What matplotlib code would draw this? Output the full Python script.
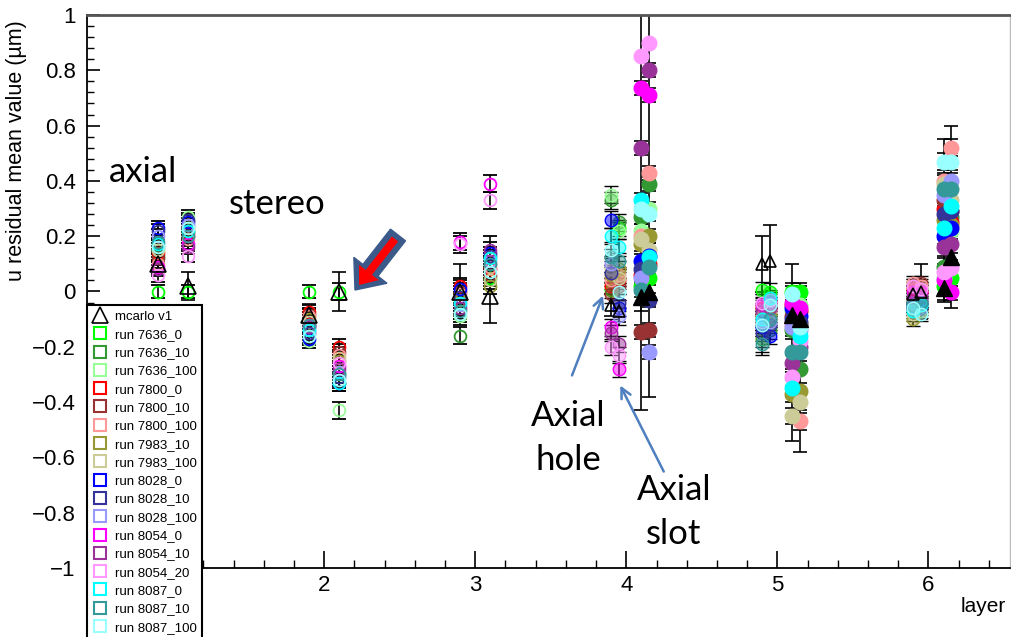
import matplotlib.pyplot as plt
import numpy as np
from matplotlib.lines import Line2D
from matplotlib.patches import FancyArrow
from matplotlib.ticker import MultipleLocator, FuncFormatter
from matplotlib.colors import to_rgba

plt.rcParams['font.family'] = ['Liberation Sans', 'DejaVu Sans']

# layer -0.1 = axial, +0.1 = stereo; layers 4-6 split into hole / slot
xpos = [0.9, 1.1, 1.9, 2.1, 2.9, 3.1, 3.9, 3.95, 4.1, 4.15,
        4.9, 4.95, 5.1, 5.15, 5.9, 5.95, 6.1, 6.15]

runs = ['7636_0', '7636_10', '7636_100', '7800_0', '7800_10', '7800_100',
        '7983_10', '7983_100', '8028_0', '8028_10', '8028_100',
        '8054_0', '8054_10', '8054_20', '8087_0', '8087_10', '8087_100']
colors = ['#00ff00', '#339933', '#99ff99', '#ff0000', '#993333', '#ff9999',
          '#999933', '#cccc99', '#0000ff', '#333399', '#9999ff',
          '#ff00ff', '#993399', '#ff99ff', '#00ffff', '#339999', '#99ffff']

run_7636_0   = [0.0, 0.0, 0.0, 0.0, -0.02, 0.05, 0.005, 0.23, 0.02, 0.05, 0.005, 0.0, 0.0, 0.0, 0.0, 0.01, 0.02, 0.05]
run_7636_10  = [0.13, 0.22, -0.12, -0.30, -0.16, 0.10, 0.33, 0.25, 0.27, 0.39, -0.17, -0.14, -0.14, -0.28, -0.04, -0.03, 0.09, 0.27]
run_7636_100 = [0.15, 0.27, -0.18, -0.43, -0.09, 0.12, 0.35, 0.22, 0.22, 0.30, -0.12, -0.08, -0.07, -0.05, -0.03, -0.02, 0.05, 0.22]
run_7800_0   = [0.14, 0.20, -0.075, -0.20, 0.02, 0.08, 0.02, 0.04, 0.06, 0.10, -0.06, -0.03, -0.05, -0.07, 0.01, 0.0, 0.30, 0.25]
run_7800_10  = [0.12, 0.21, -0.085, -0.22, 0.0, 0.06, -0.01, 0.02, -0.145, -0.14, -0.08, -0.06, -0.09, -0.12, 0.02, 0.03, 0.33, 0.29]
run_7800_100 = [0.10, 0.19, -0.09, -0.23, -0.01, 0.09, 0.04, 0.06, 0.20, 0.43, -0.10, -0.07, -0.12, -0.47, 0.03, 0.02, 0.40, 0.52]
run_7983_10  = [0.16, 0.23, -0.10, -0.25, -0.03, 0.02, 0.06, 0.08, 0.17, 0.20, -0.11, -0.09, -0.37, -0.36, -0.10, -0.07, 0.26, 0.24]
run_7983_100 = [0.15, 0.24, -0.11, -0.24, -0.04, 0.04, 0.08, 0.05, 0.19, 0.15, -0.09, -0.05, -0.45, -0.40, -0.08, -0.05, 0.39, 0.33]
run_8028_0   = [0.23, 0.25, -0.17, -0.33, 0.01, 0.14, 0.26, -0.06, 0.11, 0.13, -0.13, -0.16, -0.06, -0.09, -0.05, -0.04, 0.20, 0.23]
run_8028_10  = [0.22, 0.26, -0.15, -0.31, -0.02, 0.13, 0.066, -0.04, 0.08, -0.03, -0.15, -0.12, -0.10, -0.11, -0.06, -0.06, 0.28, 0.29]
run_8028_100 = [0.20, 0.24, -0.13, -0.29, -0.05, 0.11, 0.10, -0.09, 0.05, -0.22, -0.11, -0.11, -0.13, -0.14, -0.04, -0.03, 0.35, 0.40]
run_8054_0   = [0.09, 0.17, -0.12, -0.27, 0.18, 0.39, -0.13, -0.28, 0.735, 0.71, -0.05, -0.04, -0.04, -0.06, 0.0, 0.0, 0.04, 0.0]
run_8054_10  = [0.08, 0.16, -0.13, -0.28, -0.06, 0.15, -0.15, -0.19, 0.52, 0.80, -0.07, -0.06, -0.26, -0.20, -0.02, -0.02, 0.16, 0.17]
run_8054_20  = [0.06, 0.13, -0.14, -0.26, 0.17, 0.33, -0.20, -0.23, 0.85, 0.90, -0.04, -0.03, -0.31, -0.18, 0.02, 0.01, 0.07, 0.085]
run_8087_0   = [0.17, 0.22, -0.14, -0.33, -0.04, 0.12, 0.20, 0.16, 0.33, 0.125, -0.10, -0.025, -0.35, -0.16, -0.07, -0.05, 0.23, 0.31]
run_8087_10  = [0.18, 0.20, -0.12, -0.30, -0.07, 0.10, 0.125, 0.11, 0.005, 0.09, -0.19, -0.10, -0.22, -0.22, -0.05, -0.04, 0.37, 0.37]
run_8087_100 = [0.16, 0.23, -0.16, -0.32, -0.08, 0.07, 0.15, 0.0, 0.30, 0.28, -0.12, -0.05, -0.01, -0.13, -0.06, -0.08, 0.47, 0.47]

run_vals = [run_7636_0, run_7636_10, run_7636_100, run_7800_0, run_7800_10, run_7800_100,
            run_7983_10, run_7983_100, run_8028_0, run_8028_10, run_8028_100,
            run_8054_0, run_8054_10, run_8054_20, run_8087_0, run_8087_10, run_8087_100]

# typical error per position, plus the few big ones
err_base = [0.025, 0.025, 0.025, 0.03, 0.03, 0.03, 0.03, 0.03, 0.025, 0.025,
            0.03, 0.03, 0.03, 0.03, 0.025, 0.025, 0.03, 0.03]
err_big = {('8054_20', 8): 1.28, ('8054_20', 9): 1.28, ('8087_10', 12): 0.32,
           ('7636_10', 13): 0.30, ('7983_10', 16): 0.29, ('7636_10', 17): 0.33,
           ('7636_100', 10): 0.11, ('8028_0', 5): 0.06}

mcarlo = [0.10, 0.02, -0.085, 0.0, 0.0, -0.015, -0.05, -0.07, -0.02, 0.0,
          0.10, 0.11, -0.085, -0.10, -0.01, 0.0, 0.013, 0.125]
mcarlo_err = [0.04, 0.05, 0.04, 0.07, 0.10, 0.10, 0.04, 0.04, 0.05, 0.05,
              0.10, 0.13, 0.05, 0.05, 0.03, 0.10, 0.05, 0.05]

idx_open = [0, 1, 2, 3, 4, 5]
idx_axial = [6, 7, 10, 11, 14, 15]
idx_stereo = [8, 9, 12, 13, 16, 17]

fig = plt.figure(figsize=(10.11, 6.37), dpi=100)
ax = fig.add_axes([87/1011, 1-568/637, 923/1011, 553/637])

x = np.array(xpos)
ebar = dict(ecolor='black', elinewidth=1.2, capsize=5, capthick=1.2, ls='none')
for name, c, v in zip(runs, colors, run_vals):
    v = np.array(v)
    e = np.array(err_base)
    for (n, i), big in err_big.items():
        if n == name:
            e[i] = big
    ax.errorbar(x[idx_open], v[idx_open], yerr=e[idx_open], fmt='o', ms=8.5,
                mfc='none', mec=c, mew=1.3, **ebar)
    ax.errorbar(x[idx_axial], v[idx_axial], yerr=e[idx_axial], fmt='o', ms=9,
                mfc=to_rgba(c, 0.5), mec=c, mew=1.0, **ebar)
    ax.errorbar(x[idx_stereo], v[idx_stereo], yerr=e[idx_stereo], fmt='o', ms=10.5,
                mfc=c, mec=c, **ebar)

m = np.array(mcarlo)
me = np.array(mcarlo_err)
ax.errorbar(x[idx_open], m[idx_open], yerr=me[idx_open], fmt='^', ms=11,
            mfc='none', mec='black', mew=1.2, **ebar)
ax.errorbar(x[idx_axial], m[idx_axial], yerr=me[idx_axial], fmt='^', ms=9,
            mfc='none', mec='black', mew=1.2, **ebar)
ax.errorbar(x[idx_stereo], m[idx_stereo], yerr=me[idx_stereo], fmt='^', ms=11,
            mfc='black', mec='black', **ebar)

ax.set_xlim(0.43, 6.54)
ax.set_ylim(-1, 1)
ax.xaxis.set_major_locator(MultipleLocator(1))
ax.xaxis.set_minor_locator(MultipleLocator(0.2))
ax.yaxis.set_major_locator(MultipleLocator(0.2))
ax.yaxis.set_minor_locator(MultipleLocator(0.04))
ax.yaxis.set_major_formatter(FuncFormatter(lambda v, p: f"{round(v, 2):g}".replace('-', '\u2212')))
# "1" sits under the legend box
ax.xaxis.set_major_formatter(FuncFormatter(lambda v, p: f"{v:g}" if v > 1.5 else ''))
ax.tick_params(which='both', direction='in', top=False, right=False, labelsize=16)
ax.tick_params(axis='x', which='major', length=12, width=1.2, pad=5)
ax.tick_params(axis='x', which='minor', length=6, width=1.0)
ax.tick_params(axis='y', which='major', length=9.5, width=1.2, pad=8)
ax.tick_params(axis='y', which='minor', length=5, width=1.0)

ax.spines['top'].set_color('#555555')
ax.spines['top'].set_linewidth(2)
ax.spines['right'].set_color('#bbbbbb')
ax.spines['right'].set_linewidth(1)
ax.spines['left'].set_linewidth(1.3)
ax.spines['bottom'].set_linewidth(1.3)

ax.set_ylabel('u residual mean value (\u00b5m)', fontsize=15.5, loc='top')
ax.yaxis.set_label_coords(-0.065, 0.99)
ax.set_xlabel('layer', fontsize=15, loc='right')
ax.xaxis.set_label_coords(0.995, -0.052)

handles = [Line2D([], [], marker='^', ls='none', ms=11, mfc='none', mec='black', mew=1.2)]
labels = ['mcarlo v1']
for name, c in zip(runs, colors):
    handles.append(Line2D([], [], marker='s', ls='none', ms=9, mfc='none', mec=c, mew=1.5))
    labels.append('run ' + name)
leg = fig.legend(handles, labels, loc='upper left', bbox_to_anchor=(87/1011, 1-305/637),
                 borderaxespad=0, fontsize=9.5, fancybox=False, edgecolor='black',
                 framealpha=1, borderpad=0.4, labelspacing=0.46, handlelength=1.2,
                 handletextpad=0.5)
leg.get_frame().set_linewidth(1.5)

# slide annotations on top, in pixel coordinates
ov = fig.add_axes([0, 0, 1, 1], zorder=3)
ov.set_xlim(0, 1011)
ov.set_ylim(637, 0)
ov.axis('off')
tfont = dict(family=['Lato', 'DejaVu Sans'], fontsize=25, ha='center', va='center')
ov.text(143, 172, 'axial', **tfont)
ov.text(277, 204, 'stereo', **tfont)
ov.text(568, 438, 'Axial\nhole', linespacing=1.48, **tfont)
ov.text(674, 512, 'Axial\nslot', linespacing=1.48, **tfont)

ov.add_patch(FancyArrow(398, 235, -43, 55, width=19, head_width=42, head_length=25,
                        length_includes_head=True, fc='#3b5a8a', ec='#3b5a8a'))
ov.add_patch(FancyArrow(395, 239, -36, 46, width=8, head_width=25, head_length=16,
                        length_includes_head=True, fc='#ff0000', ec='none'))
arr = dict(arrowstyle='->', color='#4f7fbf', lw=1.8, mutation_scale=18)
ov.annotate('', xy=(604, 293), xytext=(571, 378), arrowprops=arr)
ov.annotate('', xy=(619, 383), xytext=(665, 474), arrowprops=arr)

plt.savefig('out.png', dpi=100)
